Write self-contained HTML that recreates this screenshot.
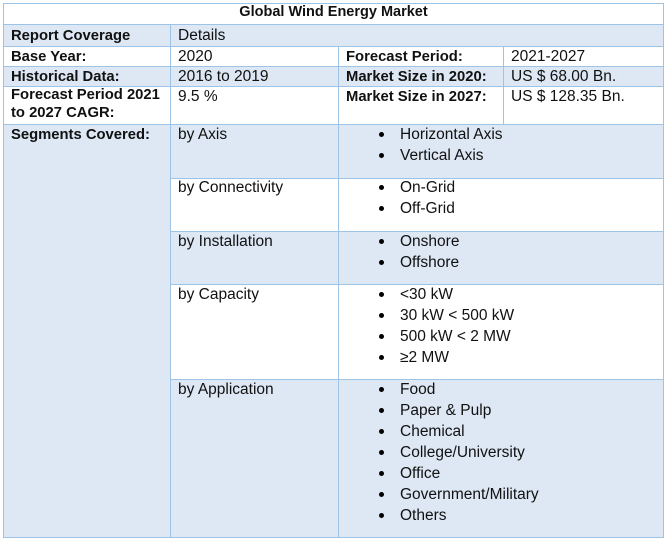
<!DOCTYPE html>
<html><head><style>
body{margin:0;width:668px;height:545px;background:#fff;position:relative;font-family:"Liberation Sans",sans-serif;font-size:15.5px;color:#111;overflow:hidden}
.c{position:absolute;box-sizing:border-box;border:1px solid #9dc3e6}
.s{background:#dde8f4}
.t{position:absolute;white-space:nowrap;line-height:21px}
b{font-weight:bold;font-size:14.8px}
.bl{position:absolute;width:5px;height:5px;border-radius:50%;background:#000}
</style></head><body>
<div class="c" style="left:3px;top:3px;width:661px;height:22px"></div>
<div class="t" style="left:3px;width:661px;text-align:center;top:2px;font-weight:bold;font-size:14.5px">Global Wind Energy Market</div>

<div class="c s" style="left:3px;top:24px;width:168px;height:23px"></div>
<div class="c s" style="left:170px;top:24px;width:494px;height:23px"></div>
<div class="c" style="left:3px;top:46px;width:168px;height:21px"></div>
<div class="c" style="left:170px;top:46px;width:169px;height:21px"></div>
<div class="c" style="left:338px;top:46px;width:166px;height:21px"></div>
<div class="c" style="left:503px;top:46px;width:161px;height:21px"></div>
<div class="c s" style="left:3px;top:66px;width:168px;height:21px"></div>
<div class="c s" style="left:170px;top:66px;width:169px;height:21px"></div>
<div class="c s" style="left:338px;top:66px;width:166px;height:21px"></div>
<div class="c s" style="left:503px;top:66px;width:161px;height:21px"></div>
<div class="c" style="left:3px;top:86px;width:168px;height:39px"></div>
<div class="c" style="left:170px;top:86px;width:169px;height:39px"></div>
<div class="c" style="left:338px;top:86px;width:166px;height:39px"></div>
<div class="c" style="left:503px;top:86px;width:161px;height:39px"></div>

<div class="c s" style="left:3px;top:124px;width:168px;height:414px"></div>
<div class="c s" style="left:170px;top:124px;width:169px;height:55px"></div>
<div class="c s" style="left:338px;top:124px;width:326px;height:55px"></div>
<div class="c" style="left:170px;top:178px;width:169px;height:54px"></div>
<div class="c" style="left:338px;top:178px;width:326px;height:54px"></div>
<div class="c s" style="left:170px;top:231px;width:169px;height:54px"></div>
<div class="c s" style="left:338px;top:231px;width:326px;height:54px"></div>
<div class="c" style="left:170px;top:284px;width:169px;height:96px"></div>
<div class="c" style="left:338px;top:284px;width:326px;height:96px"></div>
<div class="c s" style="left:170px;top:379px;width:169px;height:159px"></div>
<div class="c s" style="left:338px;top:379px;width:326px;height:159px"></div>

<div class="t" style="left:11px;top:25px"><b>Report Coverage</b></div>
<div class="t" style="left:178px;top:25px">Details</div>
<div class="t" style="left:11px;top:46px"><b>Base Year:</b></div>
<div class="t" style="left:178px;top:46px">2020</div>
<div class="t" style="left:346px;top:46px"><b>Forecast Period:</b></div>
<div class="t" style="left:511px;top:46px">2021-2027</div>
<div class="t" style="left:11px;top:66px"><b>Historical Data:</b></div>
<div class="t" style="left:178px;top:66px">2016 to 2019</div>
<div class="t" style="left:346px;top:66px"><b>Market Size in 2020:</b></div>
<div class="t" style="left:511px;top:66px">US $ 68.00 Bn.</div>
<div class="t" style="left:11px;top:86px;line-height:18px"><b>Forecast Period 2021<br>to 2027 CAGR:</b></div>
<div class="t" style="left:178px;top:86px">9.5 %</div>
<div class="t" style="left:346px;top:86px"><b>Market Size in 2027:</b></div>
<div class="t" style="left:511px;top:86px">US $ 128.35 Bn.</div>
<div class="t" style="left:11px;top:124px"><b>Segments Covered:</b></div>
<div class="t" style="left:178px;top:124px">by Axis</div>
<div class="t" style="left:178px;top:177px">by Connectivity</div>
<div class="t" style="left:178px;top:231px">by Installation</div>
<div class="t" style="left:178px;top:284px">by Capacity</div>
<div class="t" style="left:178px;top:379px">by Application</div>

<div class="t" style="left:400px;top:124px">Horizontal Axis<br>Vertical Axis</div>
<div class="t" style="left:400px;top:177px">On-Grid<br>Off-Grid</div>
<div class="t" style="left:400px;top:231px">Onshore<br>Offshore</div>
<div class="t" style="left:400px;top:284px">&lt;30 kW<br>30 kW &lt; 500 kW<br>500 kW &lt; 2 MW<br>≥2 MW</div>
<div class="t" style="left:400px;top:379px">Food<br>Paper &amp; Pulp<br>Chemical<br>College/University<br>Office<br>Government/Military<br>Others</div>

<div class="bl" style="left:379px;top:132px"></div><div class="bl" style="left:379px;top:153px"></div>
<div class="bl" style="left:379px;top:185px"></div><div class="bl" style="left:379px;top:206px"></div>
<div class="bl" style="left:379px;top:239px"></div><div class="bl" style="left:379px;top:260px"></div>
<div class="bl" style="left:379px;top:292px"></div><div class="bl" style="left:379px;top:313px"></div><div class="bl" style="left:379px;top:334px"></div><div class="bl" style="left:379px;top:355px"></div>
<div class="bl" style="left:379px;top:387px"></div><div class="bl" style="left:379px;top:408px"></div><div class="bl" style="left:379px;top:429px"></div><div class="bl" style="left:379px;top:450px"></div><div class="bl" style="left:379px;top:471px"></div><div class="bl" style="left:379px;top:492px"></div><div class="bl" style="left:379px;top:513px"></div>
</body></html>
